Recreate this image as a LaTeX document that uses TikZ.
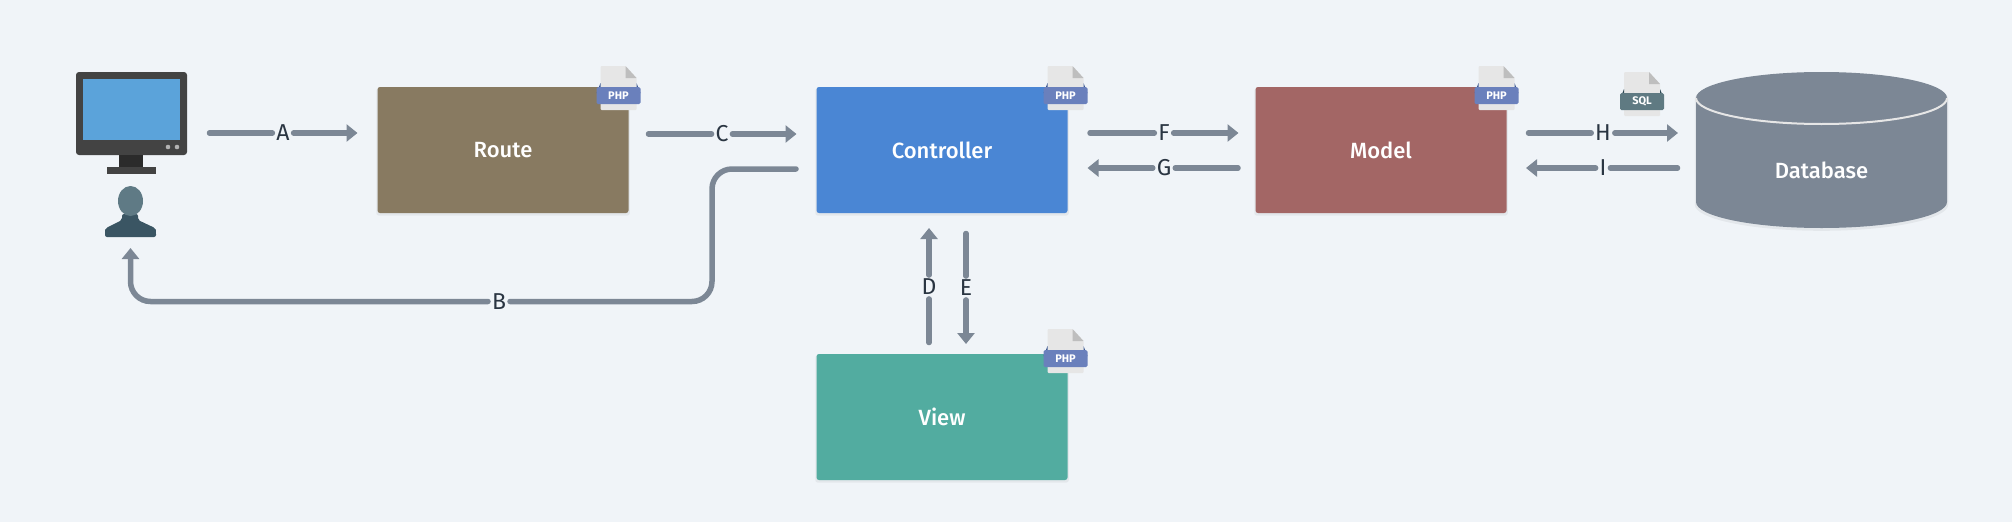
\documentclass[tikz,border=0pt]{standalone}
\usepackage{fontspec}
\setmainfont{Fira Sans}
\newfontfamily\boxfont{Fira Sans Medium}
\usetikzlibrary{shapes.geometric,arrows.meta,positioning,calc,shadows}
\definecolor{pagebg}{RGB}{240,244,248}
\definecolor{flowgray}{RGB}{124,135,149}
\definecolor{inkdark}{RGB}{42,53,66}
\definecolor{routebrown}{RGB}{136,122,97}
\definecolor{ctrlblue}{RGB}{74,134,212}
\definecolor{modelred}{RGB}{163,102,101}
\definecolor{viewteal}{RGB}{82,172,160}
\definecolor{papergray}{RGB}{230,230,230}
\definecolor{foldgray}{RGB}{190,190,190}
\definecolor{phpband}{RGB}{106,128,188}
\definecolor{phpdark}{RGB}{60,88,145}
\definecolor{sqlband}{RGB}{95,122,130}
\definecolor{sqldark}{RGB}{45,72,85}
\definecolor{monitorgray}{RGB}{67,67,67}
\definecolor{screenblue}{RGB}{91,163,218}
\definecolor{userhead}{RGB}{95,122,133}
\definecolor{userbody}{RGB}{58,85,99}
\newcommand{\docicon}[5]{%
  \coordinate (#1) at (#2);
  \fill[papergray,rounded corners=1pt] ($(#1)+(-18,22)$) -- ($(#1)+(7,22)$) -- ($(#1)+(18,10)$) -- ($(#1)+(18,-22)$) -- ($(#1)+(-18,-22)$) -- cycle;
  \fill[foldgray] ($(#1)+(7,22)$) -- ($(#1)+(18,10)$) -- ($(#1)+(7,10)$) -- cycle;
  \fill[#5] ($(#1)+(-22,-5)$) -- ($(#1)+(-18,5)$) -- ($(#1)+(-18,-5)$) -- cycle;
  \fill[#5] ($(#1)+(22,-5)$) -- ($(#1)+(18,5)$) -- ($(#1)+(18,-5)$) -- cycle;
  \node[fill=#4,rounded corners=1.5pt,minimum width=44pt,minimum height=17pt,inner sep=0pt,text=white,font=\fontsize{11}{11}\selectfont\bfseries,anchor=north] (#1label) at ($(#1)+(0,1)$) {#3};
}
\begin{document}
\begin{tikzpicture}[x=1pt,y=1pt,node distance=188pt]
  \tikzstyle{softshadow}=[general shadow={shadow yshift=-2pt,shadow scale=1.01,fill=black,opacity=.05}]
  \tikzstyle{stagebox}=[rectangle,rounded corners=2.5pt,minimum width=251pt,minimum height=126pt,inner sep=0pt,outer sep=0pt,text=white,font=\boxfont\fontsize{22}{22}\selectfont,softshadow]
  \tikzstyle{flowline}=[draw=flowgray,line width=5.5pt,line cap=round]
  \tikzstyle{flowarrow}=[flowline,-{Triangle[length=11pt,width=17pt]}]
  \tikzstyle{flowlabel}=[text=inkdark,inner sep=1.5pt,outer sep=2.5pt,font=\fontsize{23}{23}\selectfont]
  \fill[pagebg] (0,0) rectangle (2012,-522);
  \useasboundingbox (0,0) rectangle (2012,-522);
  % the four stages
  \node[stagebox,fill=routebrown] (route) at (503,-150) {Route};
  \node[stagebox,fill=ctrlblue,right=of route] (controller) {Controller};
  \node[stagebox,fill=modelred,right=of controller] (model) {Model};
  \node[stagebox,fill=viewteal,below=141pt of controller] (view) {View};
  % database drum
  \coordinate (dbleft) at (1696,-98);
  \fill[flowgray,softshadow] (dbleft) arc[start angle=180,end angle=0,x radius=125.5pt,y radius=26pt] -- ++(0,-104) arc[start angle=360,end angle=180,x radius=125.5pt,y radius=26pt] -- cycle;
  \draw[draw=papergray,line width=2pt] (dbleft) arc[start angle=180,end angle=360,x radius=125.5pt,y radius=26pt];
  \node[text=white,font=\boxfont\fontsize{22}{22}\selectfont] (database) at (1821.5,-170) {Database};
  % monitor and user
  \node[rectangle,fill=monitorgray,rounded corners=3pt,minimum width=111pt,minimum height=83pt,inner sep=0pt,outer sep=0pt] (monitor) at (131.5,-113.5) {};
  \node[rectangle,fill=screenblue,minimum width=97pt,minimum height=61pt,inner sep=0pt] (screen) at (131.5,-109.5) {};
  \fill[black!83] (119,-155) rectangle (143,-167);
  \node[rectangle,fill=monitorgray,minimum width=49pt,minimum height=7pt,inner sep=0pt,anchor=north] (stand) at (131.5,-167) {};
  \fill[black!30] (168,-147) circle (2.3pt) (177,-147) circle (2.3pt);
  \fill[userbody,rounded corners=2pt] (122,-214) -- (122,-220) -- (106,-228) .. controls (105,-230) and (105,-235) .. (105,-237) -- (156,-237) .. controls (156,-235) and (156,-230) .. (155,-228) -- (138,-220) -- (138,-214) -- cycle;
  \node[ellipse,fill=userhead,minimum width=25pt,minimum height=30pt,inner sep=0pt,outer sep=0pt] (user) at (130.5,-201) {};
  \coordinate (userfoot) at (130.5,-237);
  % file badges
  \docicon{routedoc}{$(route.north east)+(-10,-1)$}{PHP}{phpband}{phpdark}
  \docicon{ctrldoc}{$(controller.north east)+(-2,-1)$}{PHP}{phpband}{phpdark}
  \docicon{modeldoc}{$(model.north east)+(-10,-1)$}{PHP}{phpband}{phpdark}
  \docicon{viewdoc}{$(view.north east)+(-2,3)$}{PHP}{phpband}{phpdark}
  \docicon{sqldoc}{1642,-94}{SQL}{sqlband}{sqldark}
  % labels on the connectors
  \node[flowlabel] (lbla) at (283,-133) {A};
  \node[flowlabel] (lblb) at (499,-301.5) {B};
  \node[flowlabel] (lblc) at (722,-134) {C};
  \node[flowlabel] (lbld) at (929,-287) {D};
  \node[flowlabel] (lble) at (966,-288) {E};
  \node[flowlabel] (lblf) at (1164,-133) {F};
  \node[flowlabel] (lblg) at (1164,-168) {G};
  \node[flowlabel] (lblh) at (1603,-133) {H};
  \node[flowlabel] (lbli) at (1603,-168) {I};
  % connectors
  \draw[flowline] ([xshift=22.5pt]monitor.east |- lbla) -- (lbla);
  \draw[flowarrow] (lbla) -- ([xshift=-20pt]route.west |- lbla);
  \draw[flowline] ([xshift=20pt]route.east |- lblc) -- (lblc);
  \draw[flowarrow] (lblc) -- ([xshift=-20pt]controller.west |- lblc);
  \draw[flowline,rounded corners=20pt] ([shift={(-20.5pt,-19pt)}]controller.west) -| (712,-301.5) -- (lblb);
  \draw[flowarrow,rounded corners=20pt] (lblb) -| ([yshift=-11pt]userfoot);
  \draw[flowline] ([yshift=11.5pt]view.north -| lbld) -- (lbld);
  \draw[flowarrow] (lbld) -- ([yshift=-15pt]controller.south -| lbld);
  \draw[flowline] ([yshift=-20.5pt]controller.south -| lble) -- (lble);
  \draw[flowarrow] (lble) -- ([yshift=10pt]view.north -| lble);
  \draw[flowline] ([xshift=22.5pt]controller.east |- lblf) -- (lblf);
  \draw[flowarrow] (lblf) -- ([xshift=-17pt]model.west |- lblf);
  \draw[flowline] ([xshift=-17.5pt]model.west |- lblg) -- (lblg);
  \draw[flowarrow] (lblg) -- ([xshift=20pt]controller.east |- lblg);
  \draw[flowline] ([xshift=22pt]model.east |- lblh) -- (lblh);
  \draw[flowarrow] (lblh) -- ([xshift=-18pt]dbleft |- lblh);
  \draw[flowline] ([xshift=-18.5pt]dbleft |- lbli) -- (lbli);
  \draw[flowarrow] (lbli) -- ([xshift=19.5pt]model.east |- lbli);
\end{tikzpicture}
\end{document}
